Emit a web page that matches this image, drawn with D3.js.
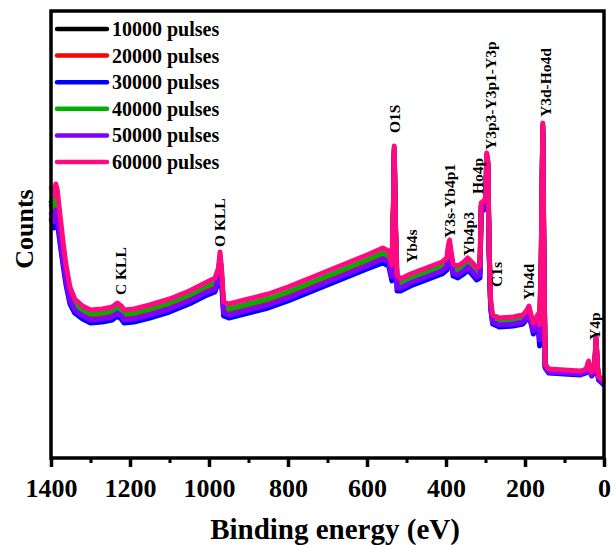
<!DOCTYPE html>
<html>
<head>
<meta charset="utf-8">
<script src="https://cdn.jsdelivr.net/npm/d3@7"></script>
<style>
  body { margin: 0; background: #fff; }
  text { font-family: "Liberation Serif", "Times New Roman", serif; font-weight: bold; }
</style>
</head>
<body>
<div id="chart"></div>
<script>
// binding energy (eV) shared by all spectra
const energy = [1400,1396,1393,1388,1384, 1378,1370,1362,1352,1340, 1320,1300,1270,1245,1232,
  1222,1215,1190,1150,1100, 1050,1010,985,976,972, 968,963,950,900,850, 800,750,700,650,600,
  560,545,537,533,531, 528,524,515,490,450, 410,398,394,391,387, 382,370,355,345,335,
  322,314,311,302,299, 297,294,291,287,282, 265,230,205,195,190, 184,179,172,167,163,
  159,155,152,149,140, 100,60,45,39,35, 31,24,20,17,14, 8,3,0];

// counts (x10^3, arbitrary)
const pulses10k = [257,251,247,259,253, 232,207,184,163,153, 147,143,144,146,150,
  147,143,144,148,154, 162,170,174,184,201, 182,150,148,153,158, 165,173,181,189,197,
  204,201,186,253,309, 233,176,174,179,185, 191,195,208,213,201, 189,187,191,195,191,
  185,187,251,254,259, 302,295,213,154,139, 136,137,139,144,148, 138,131,136,140,129,
  195,332,195,92,87, 86,85,87,95,88, 84,88,119,93,80, 78,76,75];
const pulses20k = [254,248,244,256,250, 230,205,182,162,152, 146,142,143,145,149,
  146,142,143,147,153, 161,169,173,183,200, 181,149,146,151,156, 163,171,179,187,195,
  202,199,184,252,308, 232,174,173,178,184, 190,194,207,212,200, 188,186,190,194,190,
  184,186,250,253,258, 301,294,212,153,138, 135,136,138,143,147, 137,130,135,139,126,
  192,331,193,92,87, 86,85,87,95,88, 84,88,119,93,80, 78,76,75];
const pulses30k = [240,234,230,242,236, 217,194,173,154,145, 139,135,136,138,142,
  139,135,136,140,146, 154,162,166,176,194, 174,142,140,145,150, 157,165,173,181,189,
  195,192,177,248,304, 228,167,167,172,178, 184,188,201,206,194, 182,180,184,188,184,
  178,180,246,249,254, 299,292,208,149,134, 131,132,134,139,143, 133,124,128,131,112,
  178,327,187,90,85, 84,83,85,93,86, 82,86,117,91,78, 76,74,73];
const pulses40k = [258,252,248,260,254, 233,208,185,164,154, 148,144,145,147,151,
  148,144,145,149,155, 163,171,175,185,202, 183,151,149,154,159, 166,174,182,190,198,
  205,202,187,254,310, 234,177,175,180,186, 192,196,209,214,202, 190,188,192,196,192,
  186,188,252,255,260, 303,296,214,155,140, 137,138,140,145,149, 139,132,137,141,130,
  196,333,196,93,88, 87,86,88,96,89, 85,89,120,94,81, 79,77,76];
const pulses50k = [246,240,236,248,242, 222,198,177,157,148, 142,138,139,141,145,
  142,138,139,143,149, 157,165,169,179,197, 177,145,143,148,153, 160,168,176,184,192,
  199,196,181,250,306, 230,170,170,175,181, 187,191,204,209,197, 185,183,187,191,187,
  181,183,248,251,256, 300,293,210,151,136, 133,134,136,141,145, 135,127,131,134,118,
  185,329,190,91,86, 85,84,86,94,87, 83,87,118,92,79, 77,75,74];
const pulses60k = [272,266,262,274,268, 246,218,193,171,159, 152,148,149,151,155,
  152,148,149,153,159, 167,175,180,190,206, 188,156,154,159,164, 171,179,187,195,203,
  210,207,193,258,312, 238,183,179,184,190, 196,200,213,218,206, 194,192,196,200,196,
  190,192,255,258,263, 305,298,218,158,143, 140,141,143,148,152, 142,135,140,144,133,
  200,335,200,94,89, 88,87,89,97,90, 86,90,121,95,82, 80,78,77];

const seriesNames = ["10000 pulses", "20000 pulses", "30000 pulses", "40000 pulses", "50000 pulses", "60000 pulses"];
const seriesValues = [pulses10k, pulses20k, pulses30k, pulses40k, pulses50k, pulses60k];
const seriesColors = ["#000000", "#ff0000", "#0000ff", "#00b000", "#8000ff", "#ff0a80"];

// peak labels: name, energy, counts where the text starts
const peakNames = ["C KLL", "O KLL", "O1S", "Yb4s", "Y3s-Yb4p1", "Yb4p3", "Ho4p", "Y3p3-Y3p1-Y3p", "C1s", "Yb4d", "Y3d-Ho4d", "Y4p"];
const peakEnergy = [1223, 972, 529, 486, 392, 344, 319, 286, 271, 192, 147, 25];
const peakCounts = [163, 211, 325, 195, 220, 202, 264, 308, 171, 158, 341, 118];

const xTicks = [1400, 1200, 1000, 800, 600, 400, 200, 0];

// dimensions
const W = 614, H = 545;
const margin = {top: 11, right: 10, bottom: 87, left: 51};
const width = W - margin.left - margin.right,
      height = H - margin.top - margin.bottom;

const svg = d3.select("#chart")
  .append("svg")
  .attr("width", W)
  .attr("height", H);

const g = svg.append("g")
  .attr("transform", `translate(${margin.left},${margin.top})`);

const x = d3.scaleLinear().domain([1400, 0]).range([0, width]);
const y = d3.scaleLinear().domain([0, 447]).range([height, 0]);

// spectra
const line = d3.line()
  .x((d, i) => x(energy[i]))
  .y(d => y(d));

g.selectAll("path.spec")
  .data(seriesValues)
  .join("path")
  .attr("class", "spec")
  .attr("d", d => line(d))
  .attr("fill", "none")
  .attr("stroke", (d, i) => seriesColors[i])
  .attr("stroke-width", 5)
  .attr("stroke-linejoin", "round");

// peak labels
g.selectAll("text.peak")
  .data(peakNames)
  .join("text")
  .attr("class", "peak")
  .attr("transform", (d, i) => `translate(${x(peakEnergy[i])},${y(peakCounts[i])}) rotate(-90)`)
  .attr("dy", "0.35em")
  .style("font-size", "15.5px")
  .text(d => d);

// x axis : minor + major ticks
const minor = g.append("g")
  .attr("transform", `translate(0,${height})`)
  .call(d3.axisBottom(x).tickValues(d3.range(100, 1400, 200)).tickSize(5).tickFormat(""));
minor.select(".domain").remove();
minor.selectAll("line").attr("stroke-width", 3);

const xAxis = g.append("g")
  .attr("transform", `translate(0,${height})`)
  .call(d3.axisBottom(x).tickValues(xTicks).tickSize(9).tickPadding(12).tickFormat(d3.format("d")));
xAxis.select(".domain").remove();
xAxis.selectAll("line").attr("stroke-width", 3.5);
xAxis.selectAll("text")
  .attr("fill", "#000")
  .style("font-family", "'Liberation Serif', 'Times New Roman', serif")
  .style("font-weight", "bold")
  .style("font-size", "26px");

// frame
g.append("rect")
  .attr("width", width)
  .attr("height", height)
  .attr("fill", "none")
  .attr("stroke", "#000")
  .attr("stroke-width", 3.5);

// legend
const legend = g.append("g").attr("transform", "translate(6,18)");
const rows = legend.selectAll("g")
  .data(seriesNames)
  .join("g")
  .attr("transform", (d, i) => `translate(0,${i * 26.6})`);
rows.append("line")
  .attr("x1", 0).attr("x2", 50)
  .attr("stroke", (d, i) => seriesColors[i])
  .attr("stroke-width", 4.5)
  .attr("stroke-linecap", "round");
rows.append("text")
  .attr("x", 55)
  .attr("dy", "0.35em")
  .style("font-size", "20px")
  .text(d => d);

// axis titles
svg.append("text")
  .attr("x", 335)
  .attr("y", 539)
  .attr("text-anchor", "middle")
  .style("font-size", "29px")
  .text("Binding energy (eV)");

svg.append("text")
  .attr("transform", "translate(33,229) rotate(-90)")
  .attr("text-anchor", "middle")
  .style("font-size", "26px")
  .text("Counts");
</script>
</body>
</html>
